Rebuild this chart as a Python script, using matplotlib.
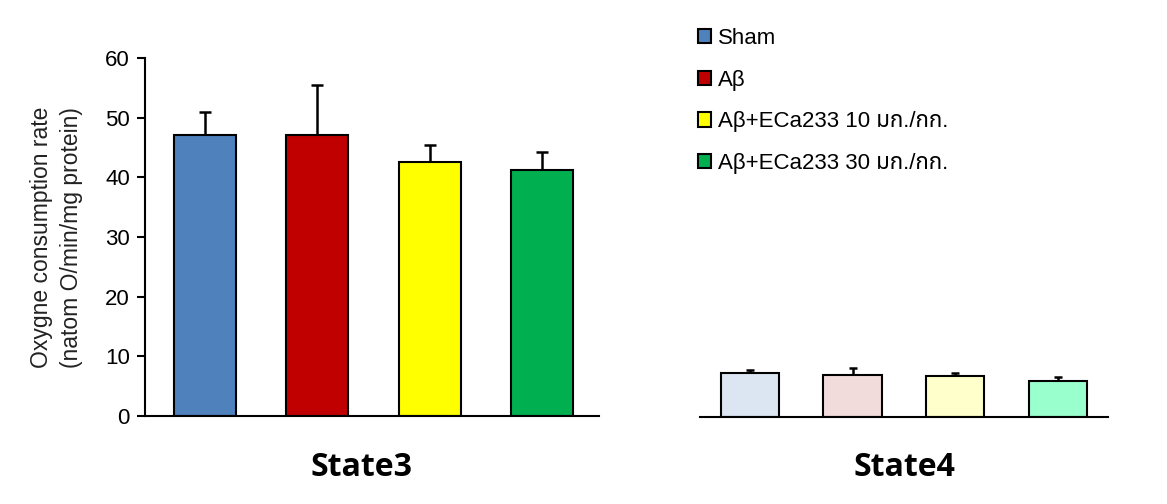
import matplotlib
matplotlib.use("Agg")
import matplotlib.pyplot as plt

# data
groups = ["Sham", "Aβ", "Aβ+ECa233 10 มก./กก.", "Aβ+ECa233 30 มก./กก."]
state3_mean = [47.1, 47.1, 42.6, 41.2]
state3_err = [3.9, 8.4, 2.8, 3.0]
state4_mean = [7.3, 7.1, 6.8, 6.0]
state4_err = [0.6, 1.2, 0.6, 0.7]
colors3 = ["#4F81BD", "#C00000", "#FFFF00", "#00B050"]
colors4 = ["#DCE6F2", "#F2DCDB", "#FFFFCC", "#99FFCC"]
yticks = [0, 10, 20, 30, 40, 50, 60]

# Thai glyphs come from a later family in the list
plt.rcParams['font.family'] = ['Liberation Sans', 'Noto Sans Thai', 'Bai Jamjuree', 'DejaVu Sans']

fig = plt.figure(figsize=(11.67, 5.04), dpi=100)
ax1 = fig.add_axes([0.1243, 0.1746, 0.389, 0.710])
ax2 = fig.add_axes([0.5998, 0.1726, 0.3496, 0.710])

x = range(len(groups))
bars = ax1.bar(x, state3_mean, width=0.55, color=colors3, edgecolor="black", linewidth=1.5,
               label=groups, zorder=2)
ax1.errorbar(x, state3_mean, yerr=[[0] * 4, state3_err], fmt="none", ecolor="black",
             elinewidth=1.8, capsize=4, capthick=1.8, zorder=1)
ax1.set_xlim(-0.533, 3.507)
ax1.set_ylim(0, 60)
ax1.set_yticks(yticks)
ax1.set_xticks([])
ax1.spines['top'].set_visible(False)
ax1.spines['right'].set_visible(False)
ax1.spines['left'].set_linewidth(1.5)
ax1.spines['bottom'].set_linewidth(1.5)
ax1.tick_params(axis='y', labelsize=16, width=1.5, length=6, direction='out', pad=5)
ax1.set_ylabel("Oxygne consumption rate\n(natom O/min/mg protein)", fontsize=16.5,
               linespacing=1.35, labelpad=16, color='#222222')

ax2.bar(x, state4_mean, width=0.57, color=colors4, edgecolor="black", linewidth=1.5, zorder=2)
ax2.errorbar(x, state4_mean, yerr=[[0] * 4, state4_err], fmt="none", ecolor="black",
             elinewidth=1.8, capsize=3, capthick=1.8, zorder=1)
ax2.set_xlim(-0.49, 3.49)
ax2.set_ylim(0, 60)
ax2.set_xticks([])
ax2.set_yticks([])
for s in ['top', 'right', 'left']:
    ax2.spines[s].set_visible(False)
ax2.spines['bottom'].set_linewidth(1.5)

fig.text(362 / 1167, 1 - 468 / 504, "State3", fontsize=23, fontweight='bold',
         family=['Open Sans', 'DejaVu Sans'], ha='center', va='center')
fig.text(904 / 1167, 1 - 468 / 504, "State4", fontsize=23, fontweight='bold',
         family=['Open Sans', 'DejaVu Sans'], ha='center', va='center')

fig.legend(handles=bars, labels=groups, loc='upper left', bbox_to_anchor=(698 / 1167, 1 - 28 / 504),
           frameon=False, fontsize=16, handlelength=0.6, handleheight=0.6, handletextpad=0.3,
           labelspacing=0.93, borderaxespad=0, borderpad=0)

plt.savefig("out.png", dpi=100)
